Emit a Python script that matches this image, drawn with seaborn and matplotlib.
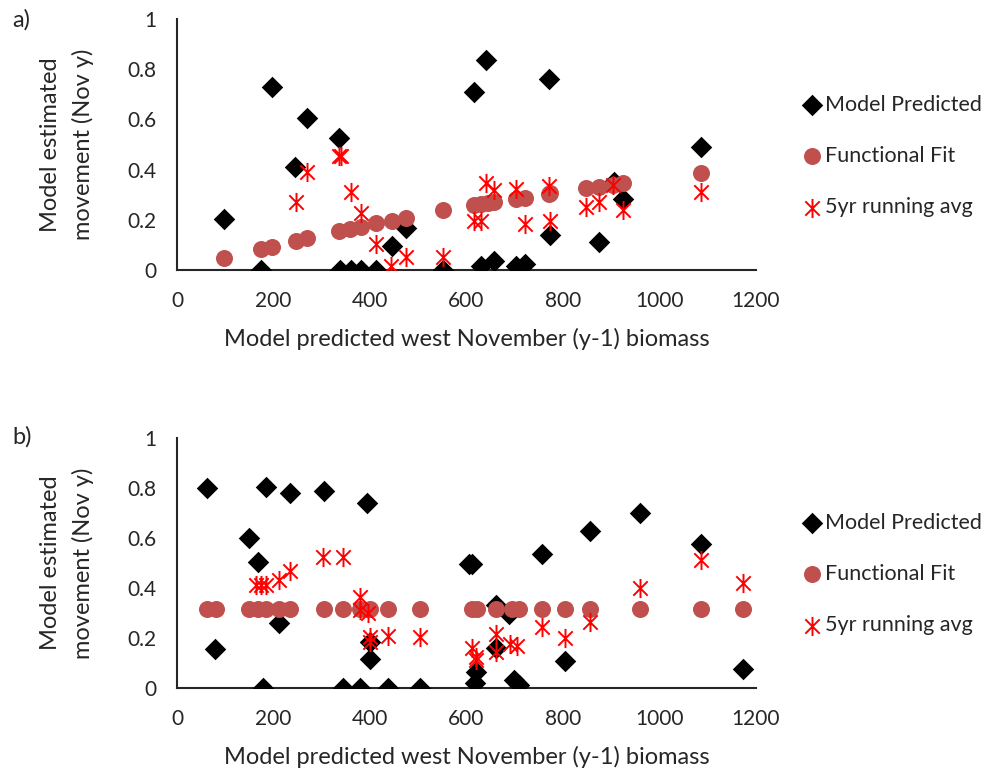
"""Movement vs. west November biomass: model predicted, functional fit, 5yr running avg."""

import numpy as np
import matplotlib
matplotlib.use("Agg")
import matplotlib.pyplot as plt
from matplotlib.path import Path
import seaborn as sns

# ── Panel a data ──────────────────────────────────────────────────────────────
a_model_x = [98, 174, 196, 245, 269, 335, 338, 360, 382, 413, 445, 474, 551,
             615, 630, 641, 656, 703, 722, 770, 773, 874, 905, 924, 1087]
a_model_y = [0.203, 0.0, 0.73, 0.41, 0.607, 0.525, 0.0, 0.0, 0.0, 0.0, 0.097,
             0.168, 0.0, 0.71, 0.017, 0.835, 0.036, 0.017, 0.025, 0.762, 0.138,
             0.11, 0.35, 0.284, 0.49]
a_fit_x = [98, 174, 197, 247, 269, 335, 359, 382, 412, 445, 474, 551, 615,
           630, 645, 656, 703, 722, 770, 773, 847, 875, 903, 925, 1087]
a_fit_y = [0.047, 0.084, 0.093, 0.117, 0.126, 0.155, 0.165, 0.173, 0.186,
           0.196, 0.208, 0.238, 0.26, 0.263, 0.266, 0.27, 0.284, 0.288, 0.304,
           0.305, 0.325, 0.332, 0.339, 0.345, 0.388]
a_avg_x = [246, 269, 335, 340, 360, 381, 413, 444, 474, 551, 615, 630, 641,
           656, 703, 721, 770, 773, 847, 875, 904, 924, 1087]
a_avg_y = [0.27, 0.389, 0.455, 0.455, 0.31, 0.226, 0.104, 0.017, 0.053, 0.053,
           0.195, 0.195, 0.348, 0.317, 0.321, 0.183, 0.336, 0.194, 0.252,
           0.272, 0.339, 0.24, 0.31]

# ── Panel b data ──────────────────────────────────────────────────────────────
b_model_x = [62, 78, 149, 167, 179, 184, 212, 234, 304, 345, 380, 394, 399,
             400, 438, 503, 606, 612, 617, 620, 662, 662, 689, 698, 708, 756,
             805, 855, 959, 1085, 1174]
b_model_y = [0.8, 0.156, 0.599, 0.503, 0.0, 0.803, 0.26, 0.78, 0.787, 0.0,
             0.0, 0.741, 0.185, 0.117, 0.0, 0.0, 0.497, 0.497, 0.021, 0.065,
             0.332, 0.161, 0.298, 0.032, 0.012, 0.536, 0.108, 0.628, 0.701,
             0.577, 0.075]
b_fit_x = [62, 80, 149, 167, 184, 212, 234, 304, 345, 380, 400, 438, 503,
           612, 622, 662, 694, 708, 756, 805, 855, 959, 1085, 1174]
b_fit_y = [0.315] * len(b_fit_x)
b_avg_x = [164, 174, 184, 212, 234, 303, 344, 380, 380, 396, 400, 400, 438,
           503, 612, 620, 620, 662, 662, 691, 705, 756, 805, 855, 959, 1085,
           1174]
b_avg_y = [0.411, 0.411, 0.411, 0.432, 0.468, 0.525, 0.525, 0.365, 0.312,
           0.301, 0.205, 0.185, 0.208, 0.205, 0.159, 0.125, 0.112, 0.215,
           0.145, 0.175, 0.169, 0.243, 0.199, 0.264, 0.399, 0.512, 0.419]

X_TICKS = [0, 200, 400, 600, 800, 1000, 1200]
Y_TICKS = [0, 0.2, 0.4, 0.6, 0.8, 1.0]
Y_TICKLABELS = ["0", "0.2", "0.4", "0.6", "0.8", "1"]

# Excel-style star: vertical bar plus an X
STAR = Path(
    [(0, -1), (0, 1), (-0.75, -0.75), (0.75, 0.75), (-0.75, 0.75), (0.75, -0.75)],
    [Path.MOVETO, Path.LINETO] * 3,
)

BLACK = "#000000"
FIT_RED = "#C0504D"
AVG_RED = "#FF0000"

sns.set_style("white")
plt.rcParams["font.family"] = ["Lato", "DejaVu Sans"]

W, H = 991, 773
fig = plt.figure(figsize=(W / 100, H / 100), dpi=100)


def add_panel(left, top, right, bottom):
    return fig.add_axes([left / W, 1 - bottom / H, (right - left) / W, (bottom - top) / H])


def draw_panel(ax, mx, my, fx, fy, sx, sy, legend_y):
    sns.scatterplot(x=mx, y=my, ax=ax, marker="D", s=120, color=BLACK,
                    edgecolor=BLACK, linewidth=0, label="Model Predicted", zorder=3)
    sns.scatterplot(x=fx, y=fy, ax=ax, marker="o", s=150, color=FIT_RED,
                    edgecolor=FIT_RED, linewidth=0, label="Functional Fit", zorder=4)
    sns.scatterplot(x=sx, y=sy, ax=ax, marker=STAR, s=190, color=AVG_RED,
                    edgecolor=AVG_RED, linewidth=1.4, label="5yr running avg", zorder=5)

    ax.set_xlim(0, 1200)
    ax.set_ylim(0, 1)
    ax.set_xticks(X_TICKS)
    ax.set_xticklabels([str(t) for t in X_TICKS])
    ax.set_yticks(Y_TICKS)
    ax.set_yticklabels(Y_TICKLABELS)
    ax.tick_params(axis="both", length=0, labelsize=15, pad=15)
    for side in ("top", "right"):
        ax.spines[side].set_visible(False)
    for side in ("left", "bottom"):
        ax.spines[side].set_color("#262626")
        ax.spines[side].set_linewidth(1.5)
    ax.set_xlabel("Model predicted west November (y-1) biomass", fontsize=17, labelpad=12)
    ax.set_ylabel("Model estimated\nmovement (Nov y)", fontsize=17, labelpad=24,
                  linespacing=1.6)

    ax.legend(loc="center left", bbox_to_anchor=(784 / W, 1 - legend_y / H),
              bbox_transform=fig.transFigure, frameon=False, fontsize=15.5,
              labelspacing=1.45, handletextpad=0.2, handlelength=0.8,
              markerscale=1.0, borderpad=0.4)


ax_a = add_panel(177, 19, 756, 270)
ax_b = add_panel(177, 438, 756, 688)
draw_panel(ax_a, a_model_x, a_model_y, a_fit_x, a_fit_y, a_avg_x, a_avg_y, 156)
draw_panel(ax_b, b_model_x, b_model_y, b_fit_x, b_fit_y, b_avg_x, b_avg_y, 574)

fig.text(12 / W, 1 - 20 / H, "a)", fontsize=17, ha="left", va="center")
fig.text(12 / W, 1 - 437 / H, "b)", fontsize=17, ha="left", va="center")

fig.savefig("out.png", dpi=100)
